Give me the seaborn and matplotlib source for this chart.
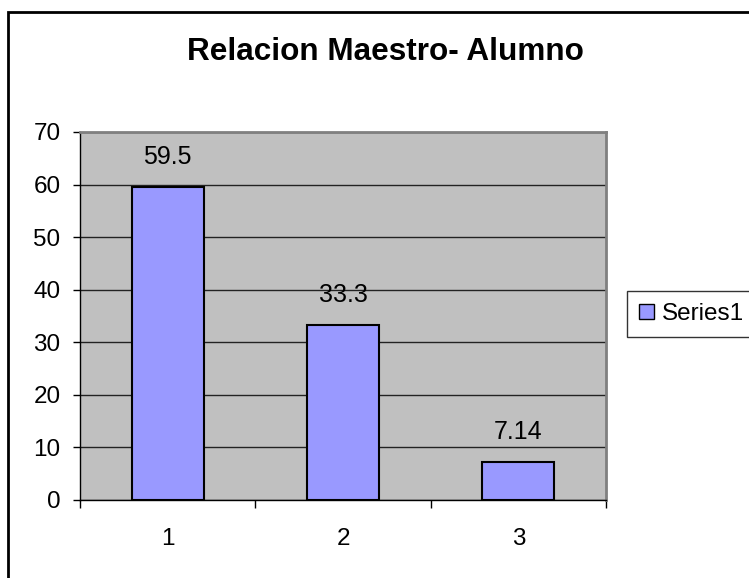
import matplotlib
matplotlib.use("Agg")
import matplotlib.pyplot as plt
import seaborn as sns
import pandas as pd
from matplotlib.patches import Rectangle, Patch

categories = ["1", "2", "3"]
values = [59.5, 33.3, 7.14]
labels = ["59.5", "33.3", "7.14"]
series_name = "Series1"
title = "Relacion Maestro- Alumno"
yticks = [0, 10, 20, 30, 40, 50, 60, 70]

sns.set_theme(style="white")
plt.rcParams["font.family"] = ["Liberation Sans", "DejaVu Sans"]
plt.rcParams["text.color"] = "black"
plt.rcParams["xtick.color"] = "black"
plt.rcParams["ytick.color"] = "black"
plt.rcParams["axes.labelcolor"] = "black"

W, H = 749, 578
fig = plt.figure(figsize=(W / 100, H / 100), dpi=100)
fig.patch.set_facecolor("white")

# outer chart frame (extends beyond right/bottom edges)
fig.patches.append(Rectangle((8 / W, -0.1), 1.2, (H - 12) / H + 0.1,
                             transform=fig.transFigure, fill=False,
                             edgecolor="black", linewidth=2, zorder=0))

ax = fig.add_axes([80 / W, (H - 500) / H, 526 / W, 368 / H])
ax.set_facecolor("#C0C0C0")

df = pd.DataFrame({"cat": categories, "val": values})
sns.barplot(data=df, x="cat", y="val", color="#9999FF", width=0.41,
            edgecolor="black", linewidth=1.5, saturation=1, ax=ax, zorder=3)

ax.set_ylim(0, 70)
ax.set_xlim(-0.5, 2.5)
ax.set_yticks(yticks)
ax.set_yticklabels([str(t) for t in yticks], fontsize=17.5)
ax.yaxis.grid(True, color="#222222", linewidth=1)
ax.set_axisbelow(True)
ax.set_xlabel("")
ax.set_ylabel("")

# x ticks at category boundaries, labels at centres
ax.set_xticks([-0.5, 0.5, 1.5, 2.5])
ax.set_xticklabels([])
ax.set_xticks([0, 1, 2], minor=True)
ax.set_xticklabels(categories, minor=True, fontsize=17.5)
ax.tick_params(axis="x", which="major", direction="out", length=6, width=1, color="black", bottom=True)
ax.tick_params(axis="x", which="minor", length=0, pad=20)
ax.tick_params(axis="y", direction="out", length=5, width=1, color="black", left=True, pad=9)

for side in ["top", "right"]:
    ax.spines[side].set_visible(True)
    ax.spines[side].set_color("#808080")
    ax.spines[side].set_linewidth(2)
for side in ["left", "bottom"]:
    ax.spines[side].set_visible(True)
    ax.spines[side].set_color("black")
    ax.spines[side].set_linewidth(1)

ax.bar_label(ax.containers[0], labels=labels, padding=13, fontsize=18)

fig.text(385 / W, 1 - 52 / H, title, ha="center", va="center",
         fontsize=22.7, fontweight="bold")

handle = Patch(facecolor="#9999FF", edgecolor="black", linewidth=1)
leg = fig.legend([handle], [series_name], loc="center left",
                 bbox_to_anchor=(627 / W, 1 - 314 / H), fontsize=17.5,
                 frameon=True, fancybox=False, handlelength=0.6,
                 handleheight=0.6, handletextpad=0.35, borderpad=0.5,
                 borderaxespad=0)
leg.get_frame().set_edgecolor("black")
leg.get_frame().set_linewidth(1)

fig.savefig("out.png", dpi=100)
